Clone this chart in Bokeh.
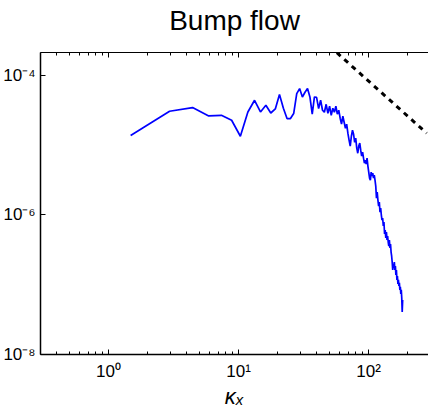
from bokeh.plotting import figure
from bokeh.models import Range1d, LogAxis, FixedTicker, CustomJSTickFormatter
from bokeh.embed import file_html
from bokeh.resources import INLINE

# wavenumber kx
kx = [1.48, 2.95, 4.43, 5.90, 7.38, 8.85, 10.33, 11.80, 13.28, 14.75,
      16.23, 17.70, 19.18, 20.65, 22.13, 23.60, 25.08, 26.55, 28.03, 29.50,
      30.98, 32.45, 33.93, 35.40, 36.88, 38.35, 39.83, 41.30, 42.78, 44.25,
      45.73, 47.20, 48.68, 50.15, 51.63, 53.10, 54.58, 56.05, 57.53, 59.00,
      60.48, 61.95, 63.43, 64.90, 66.38, 67.85, 69.33, 70.80, 72.28, 73.75,
      75.23, 76.70, 78.18, 79.65, 81.13, 82.60, 84.08, 85.55, 87.03, 88.50,
      89.98, 91.45, 92.93, 94.40, 95.88, 97.35, 98.83, 100.30, 101.78, 103.25,
      104.73, 106.20, 107.68, 109.15, 110.63, 112.10, 113.58, 115.05, 116.53, 118.00,
      119.48, 120.95, 122.43, 123.90, 125.38, 126.85, 128.33, 129.80, 131.28, 132.75,
      134.23, 135.70, 137.18, 138.65, 140.13, 141.60, 143.08, 144.55, 146.03, 147.50,
      148.98, 150.45, 151.93, 153.40, 154.88, 156.35, 157.83, 159.30, 160.78, 162.25,
      163.73, 165.20, 166.68, 168.15, 169.63, 171.10, 172.58, 174.05, 175.53, 177.00,
      178.48, 179.95, 181.43, 182.90]

# spectrum values
energy = [1.36e-5, 3.03e-5, 3.42e-5, 2.60e-5, 2.65e-5, 2.25e-5, 1.33e-5, 2.96e-5, 4.35e-5, 2.96e-5,
          3.69e-5, 2.86e-5, 3.27e-5, 5.25e-5, 3.34e-5, 2.38e-5, 2.38e-5, 2.81e-5, 5.42e-5, 6.40e-5,
          4.85e-5, 5.66e-5, 6.40e-5, 4.85e-5, 2.75e-5, 4.85e-5, 4.80e-5, 3.31e-5, 4.35e-5, 3.13e-5,
          2.93e-5, 3.81e-5, 2.83e-5, 3.57e-5, 2.65e-5, 3.34e-5, 2.93e-5, 3.57e-5, 2.75e-5, 3.13e-5,
          2.41e-5, 1.98e-5, 2.57e-5, 2.11e-5, 1.73e-5, 1.98e-5, 1.47e-5, 1.17e-5, 9.6e-6, 1.33e-5,
          1.62e-5, 1.42e-5, 1.09e-5, 1.25e-5, 8.97e-6, 7.6e-6, 9.6e-6, 1.06e-5, 8.4e-6, 6.9e-6,
          7.87e-6, 6.46e-6, 5.48e-6, 6.04e-6, 5.3e-6, 6.46e-6, 4.97e-6, 4.07e-6, 3.34e-6, 3.13e-6,
          4.07e-6, 3.57e-6, 3.94e-6, 3.34e-6, 3.69e-6, 3.13e-6, 2.57e-6, 1.73e-6, 2.11e-6, 1.62e-6,
          1.33e-6, 1.52e-6, 1.09e-6, 1.25e-6, 9.9e-7, 8.4e-7, 8.97e-7, 6.9e-7, 7.87e-7, 5.3e-7,
          6.04e-7, 4.65e-7, 5.66e-7, 4.35e-7, 4.97e-7, 4.07e-7, 3.57e-7, 4.35e-7, 3.34e-7, 3.81e-7,
          2.93e-7, 2.57e-7, 2.11e-7, 1.62e-7, 1.98e-7, 1.73e-7, 2.11e-7, 1.62e-7, 1.85e-7, 1.38e-7,
          1.62e-7, 1.17e-7, 1.33e-7, 1.02e-7, 1.17e-7, 9.6e-8, 1.06e-7, 8.4e-8, 9.27e-8, 7.36e-8,
          8.4e-8, 6.46e-8, 4.07e-8, 6.04e-8]

# -5/3 reference slope
slope_kx = [50.0, 280.0]
slope_e = [2.6e-4, 1.47e-5]

x_major = [1, 10, 100]
x_minor = [0.3, 0.4, 0.5, 0.6, 0.7, 0.8, 0.9, 2, 3, 4, 5, 6, 7, 8, 9,
           20, 30, 40, 50, 60, 70, 80, 90, 200]
y_major = [1e-8, 1e-6, 1e-4]

FONT = "Liberation Sans"

sup_js = """
const s = {'-':'\\u207b','0':'\\u2070','1':'\\u00b9','2':'\\u00b2','3':'\\u00b3',
           '4':'\\u2074','5':'\\u2075','6':'\\u2076','7':'\\u2077','8':'\\u2078','9':'\\u2079'};
const e = Math.round(Math.log10(tick)).toString();
let out = '10';
for (const c of e) out += s[c];
return out;
"""

p = figure(frame_width=388, frame_height=302, x_axis_type="log", y_axis_type="log",
           x_range=Range1d(0.3, 289), y_range=Range1d(1e-8, 2.1e-4),
           output_backend="svg", toolbar_location=None,
           min_border_left=34, min_border_right=0, min_border_top=52,
           min_border_bottom=46)
p.outline_line_color = None
p.xgrid.visible = False
p.ygrid.visible = False
p.background_fill_color = "white"
p.border_fill_color = "white"

xa = p.xaxis[0]
xa.ticker = FixedTicker(ticks=x_major, minor_ticks=x_minor)
xa.formatter = CustomJSTickFormatter(code=sup_js)
xa.major_tick_in = 5
xa.major_tick_out = 0
xa.minor_tick_in = 3
xa.minor_tick_out = 0
xa.axis_line_width = 1.5
xa.axis_line_color = "black"
xa.major_tick_line_color = "black"
xa.minor_tick_line_color = "black"
xa.major_label_text_font = FONT
xa.major_label_text_font_size = "17px"
xa.major_label_text_color = "black"
xa.major_label_standoff = 7
xa.axis_label = "\u03ba\u2093"
xa.axis_label_text_font = FONT
xa.axis_label_text_font_style = "italic"
xa.axis_label_text_font_size = "22px"
xa.axis_label_text_color = "black"
xa.axis_label_standoff = 0

ya = p.yaxis[0]
ya.ticker = FixedTicker(ticks=y_major, minor_ticks=[])
ya.formatter = CustomJSTickFormatter(code=sup_js)
ya.major_tick_in = 5
ya.major_tick_out = 0
ya.minor_tick_line_color = None
ya.axis_line_width = 1.5
ya.axis_line_color = "black"
ya.major_tick_line_color = "black"
ya.major_label_text_font = FONT
ya.major_label_text_font_size = "17px"
ya.major_label_text_color = "black"
ya.major_label_standoff = 5

# top frame line carrying the chart title
top = LogAxis(ticker=FixedTicker(ticks=x_major, minor_ticks=x_minor),
              formatter=CustomJSTickFormatter(code="return '';"),
              major_tick_in=5, major_tick_out=0, minor_tick_in=3, minor_tick_out=0,
              major_label_standoff=0, axis_line_width=1.2,
              major_label_text_font_size="0px",
              axis_label="Bump flow", axis_label_text_font=FONT,
              axis_label_text_font_size="28px", axis_label_text_font_style="normal",
              axis_label_text_color="black", axis_label_standoff=17)
p.add_layout(top, "above")

p.line(kx, energy, line_color="#0000ff", line_width=1.7)
p.line(slope_kx, slope_e, line_color="black", line_width=3, line_dash="5 5")

open("out.html", "w").write(file_html(p, INLINE))
